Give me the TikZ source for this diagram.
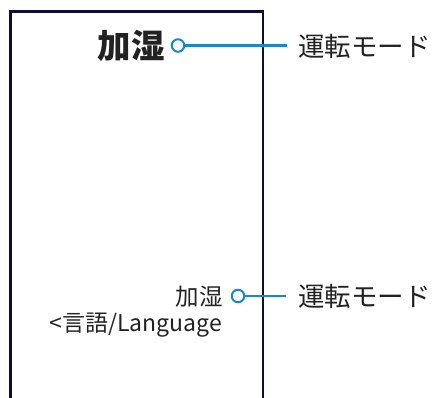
\documentclass[tikz,border=0pt]{standalone}
\usepackage{fontspec}
\setmainfont{Noto Sans CJK JP}
\definecolor{frame}{HTML}{0B1030}
\definecolor{callout}{HTML}{1788D0}
\definecolor{txt}{HTML}{222222}
\begin{document}
\begin{tikzpicture}[x=1pt,y=-1pt,
  framestyle/.style={draw=frame,line width=2.8pt},
  leader/.style={draw=callout,line width=2.3pt},
  dot/.style={circle,draw=callout,line width=2pt,fill=white,minimum size=12.5pt,inner sep=0pt},
  lbl/.style={text=txt,inner sep=0pt,font=\fontsize{26.5}{28}\selectfont},
  sublbl/.style={text=txt,inner sep=0pt,font=\fontsize{23.5}{26}\selectfont},
  biglbl/.style={text=txt,inner sep=0pt,font=\fontsize{33.5}{36}\selectfont\bfseries}]
\useasboundingbox (0,0) rectangle (436,397);
\draw[framestyle] (10.5,400) -- (10.5,11.5) -- (263,11.5) -- (263,400);
% top callout
\node[biglbl,anchor=east] (t1) at (165,46) {加湿};
\node[dot] (c1) at (178,45.5) {};
\coordinate (e1) at (287,45.5);
\node[lbl,anchor=west] (m1) at (298,46.5) {運転モード};
\draw[leader] (c1) -- (e1);
% bottom callout
\node[sublbl,anchor=east] (t2) at (223,296.5) {加湿};
\node[dot] (c2) at (238,296) {};
\coordinate (e2) at (286,296);
\node[lbl,anchor=west] (m2) at (298,296.5) {運転モード};
\draw[leader] (c2) -- (e2);
\node[sublbl,anchor=east,font=\fontsize{23}{26}\selectfont] (lang) at (222,325.5) {<言語/Language};
\end{tikzpicture}
\end{document}
